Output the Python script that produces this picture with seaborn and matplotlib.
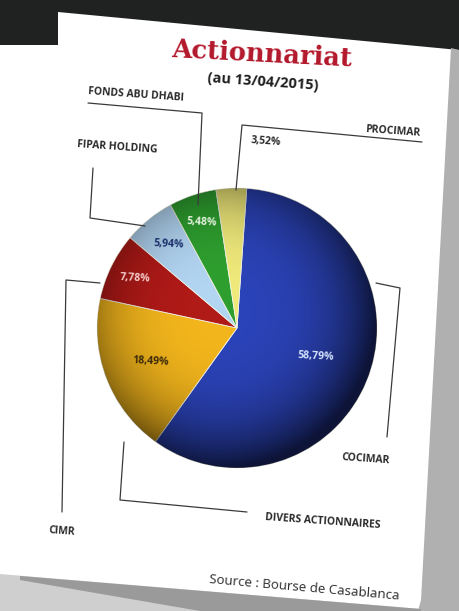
import numpy as np
import matplotlib
matplotlib.use("Agg")
import matplotlib.pyplot as plt
from matplotlib.patches import Circle, Polygon
import seaborn as sns

# ---- data ----
shareholders = ["COCIMAR", "DIVERS ACTIONNAIRES", "CIMR", "FIPAR HOLDING",
                "FONDS ABU DHABI", "PROCIMAR"]
shares = [58.79, 18.49, 7.78, 5.94, 5.48, 3.52]
slice_colors = ["#2b43b8", "#f2b51c", "#b01a17", "#b2d5f2", "#2e9f2f", "#efe97a"]
title = "Actionnariat"
subtitle = "(au 13/04/2015)"
source = "Source : Bourse de Casablanca"

sns.set_theme(style="white")
plt.rcParams["font.family"] = ["Liberation Sans Narrow", "Open Sans", "DejaVu Sans"]
palette = sns.color_palette(slice_colors)

W, H = 459, 611
fig = plt.figure(figsize=(W / 100, H / 100), dpi=100)
fig.patch.set_facecolor("white")

# background layer (photo context)
bg = fig.add_axes([0, 0, 1, 1], zorder=0)
bg.set_xlim(0, W); bg.set_ylim(H, 0); bg.axis("off")
bg.add_patch(Polygon([(0, 0), (W, 0), (W, 50), (58, 12), (58, 45), (0, 45)],
                     closed=True, facecolor="#1f2220", edgecolor="none"))
bg.add_patch(Polygon([(451, 48), (W, 50), (W, H), (418, H), (421, 600)],
                     closed=True, facecolor="#b0b0b0", edgecolor="none"))
# bottom shadow below the paper edge
bg.add_patch(Polygon([(0, 574), (421, 609), (421, H), (0, H)],
                     closed=True, facecolor="#cfcfcf", edgecolor="none"))
bg.add_patch(Polygon([(20, 576), (421, 609), (421, H), (200, H), (20, 580)],
                     closed=True, facecolor="#9a9a9a", edgecolor="none"))

# pie
cx, cy, R = 237, 328, 140
pie_ax = fig.add_axes([(cx - R) / W, (H - cy - R) / H, 2 * R / W, 2 * R / H], zorder=2)
wedges, _ = pie_ax.pie(shares, colors=palette, startangle=86, counterclock=False,
                       radius=1.0, wedgeprops=dict(edgecolor="#f3f3e8", linewidth=0.6))
pie_ax.set_xlim(-1, 1); pie_ax.set_ylim(-1, 1)
pie_ax.set_aspect("equal"); pie_ax.axis("off")

# radial shading for a glossy 3D look
g = np.linspace(-1, 1, 300)
X, Y = np.meshgrid(g, g)
d = np.hypot(X + 0.12, Y - 0.12)
alpha = 0.7 * np.clip(d / 1.12, 0, 1) ** 3.2
shade = np.zeros((300, 300, 4)); shade[..., 3] = alpha
im = pie_ax.imshow(shade, extent=(-1, 1, -1, 1), origin="lower", zorder=5)
im.set_clip_path(Circle((0, 0), 1, transform=pie_ax.transData))
pie_ax.set_xlim(-1, 1); pie_ax.set_ylim(-1, 1)

pct_dist = [0.60, 0.66, 0.81, 0.77, 0.80, None]
pct_col = ["#d4e4ff", "#3b2a0a", "#f5cccc", "#1c2d6a", "#e3f2de", None]
for w, v, dist, col in zip(wedges, shares, pct_dist, pct_col):
    if dist is None:
        continue
    ang = np.deg2rad((w.theta1 + w.theta2) / 2)
    pie_ax.text(dist * np.cos(ang), dist * np.sin(ang),
                f"{v:.2f}".replace(".", ",") + "%", ha="center", va="center",
                fontsize=7.5, fontweight="bold", color=col, zorder=6, rotation=-3)

# overlay: titles, leader lines, labels
ov = fig.add_axes([0, 0, 1, 1], zorder=3)
ov.set_xlim(0, W); ov.set_ylim(H, 0); ov.axis("off"); ov.patch.set_alpha(0)

ov.text(262, 54, title, ha="center", va="center", fontsize=18.5, fontweight="bold",
        color="#b3182b", family=["DejaVu Serif"], rotation=-3)
ov.text(263, 82, subtitle, ha="center", va="center", fontsize=10.5,
        fontweight="bold", color="#1e1e1e", rotation=-4)

lc = dict(color="#3a3a3a", linewidth=0.9)
leaders = {
    "FONDS ABU DHABI": [(88, 103), (202, 113), (198, 205)],
    "FIPAR HOLDING": [(93, 168), (90, 218), (145, 226)],
    "PROCIMAR": [(236, 190), (242, 125), (422, 142)],
    "COCIMAR": [(376, 283), (400, 288), (387, 437)],
    "CIMR": [(100, 283), (66, 280), (62, 512)],
    "DIVERS ACTIONNAIRES": [(124, 442), (120, 500), (247, 512)],
}
for name, pts in leaders.items():
    xs, ys = zip(*pts)
    ov.plot(xs, ys, **lc)

lab = dict(fontsize=7.5, fontweight="bold", color="#2a2a2a", rotation=-4)
ov.text(88, 95, "FONDS ABU DHABI", ha="left", va="center", **lab)
ov.text(77, 147, "FIPAR HOLDING", ha="left", va="center", **lab)
ov.text(421, 131, "PROCIMAR", ha="right", va="center", **lab)
ov.text(250, 142, f"{shares[5]:.2f}".replace(".", ",") + "%", ha="left", va="center", **lab)
ov.text(366, 459, "COCIMAR", ha="center", va="center", **lab)
ov.text(62, 531, "CIMR", ha="center", va="center", **lab)
ov.text(323, 522, "DIVERS ACTIONNAIRES", ha="center", va="center", **lab)
ov.text(304, 588, source, ha="center", va="center", fontsize=9.5,
        color="#2a2a2a", rotation=-5, family=["Open Sans", "DejaVu Sans"])

fig.savefig("out.png", dpi=100)
